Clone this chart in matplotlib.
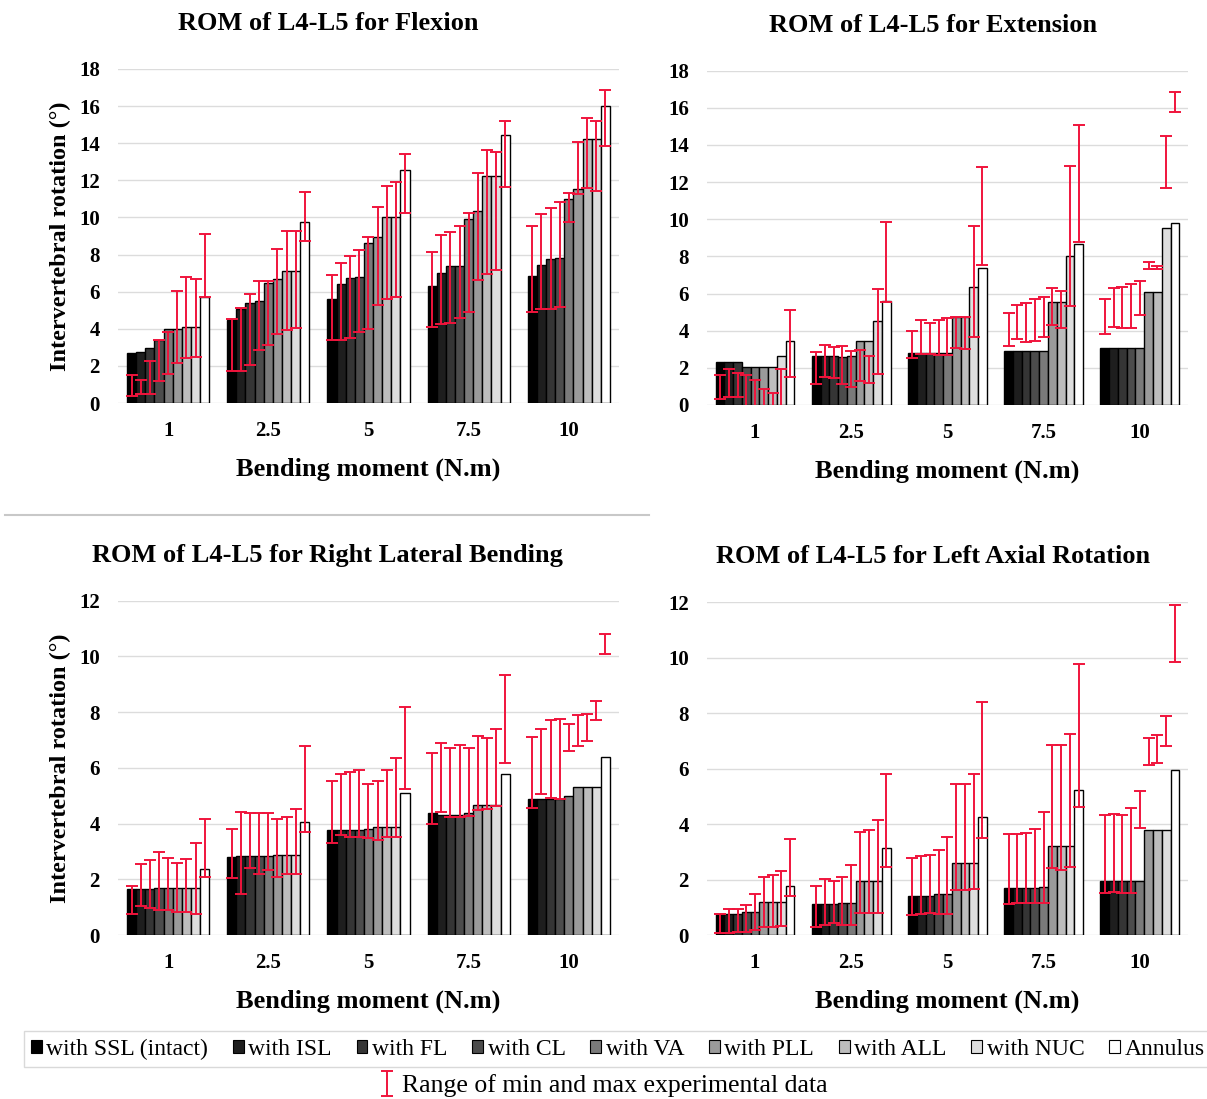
import numpy as np
import matplotlib.pyplot as plt
from matplotlib.patches import Patch
from matplotlib.lines import Line2D

plt.rcParams['font.family'] = ['Liberation Serif', 'DejaVu Serif']

moments = ['1', '2.5', '5', '7.5', '10']
series = ['with SSL (intact)', 'with ISL', 'with FL', 'with CL', 'with VA',
          'with PLL', 'with ALL', 'with NUC', 'Annulus']

# rows = bending moment, columns = series
flex_rom = [[2.72, 2.77, 2.98, 3.40, 3.99, 3.99, 4.07, 4.07, 5.72],
            [4.45, 5.07, 5.38, 5.47, 6.44, 6.70, 7.12, 7.12, 9.77],
            [5.63, 6.39, 6.73, 6.80, 8.60, 8.96, 10.04, 10.04, 12.55],
            [6.30, 6.99, 7.38, 7.38, 9.90, 10.36, 12.23, 12.23, 14.44],
            [6.84, 7.45, 7.74, 7.81, 10.97, 11.53, 14.22, 14.22, 16.02]]
flex_max = [[1.50, 1.22, 2.28, 3.39, 3.84, 6.02, 6.77, 6.70, 9.13],
            [4.53, 5.10, 5.88, 6.55, 6.60, 8.30, 9.28, 9.28, 11.38],
            [6.88, 7.56, 7.92, 8.24, 8.93, 10.58, 11.70, 11.92, 13.43],
            [8.14, 9.05, 9.23, 9.54, 10.22, 12.37, 13.63, 13.54, 15.19],
            [9.54, 10.20, 10.49, 10.85, 11.33, 14.08, 15.34, 15.19, 16.86]]
flex_min = [[0.40, 0.47, 0.47, 1.16, 1.58, 2.13, 2.42, 2.48, 5.72],
            [1.73, 1.75, 2.06, 2.85, 3.15, 3.70, 3.93, 4.02, 8.73],
            [3.42, 3.42, 3.51, 3.83, 4.01, 5.29, 5.62, 5.71, 10.26],
            [4.11, 4.26, 4.33, 4.56, 4.89, 6.63, 6.95, 7.17, 11.65],
            [4.89, 5.05, 5.05, 5.19, 9.74, 11.24, 11.57, 11.44, 13.86]]

ext_rom = [[2.33, 2.33, 2.33, 2.03, 2.03, 2.03, 2.03, 2.66, 3.43],
           [2.66, 2.66, 2.66, 2.58, 2.63, 3.46, 3.46, 4.52, 5.61],
           [2.78, 2.78, 2.78, 2.78, 2.78, 4.76, 4.76, 6.37, 7.36],
           [2.93, 2.93, 2.93, 2.93, 2.93, 5.56, 5.56, 8.02, 8.65],
           [3.05, 3.05, 3.05, 3.05, 3.05, 6.10, 6.10, 9.55, 9.82]]
ext_max = [[1.62, 1.92, 1.71, 1.60, 1.35, 0.84, 0.63, 1.95, 5.12],
           [2.87, 3.25, 3.11, 3.18, 2.91, 2.96, 2.64, 6.23, 9.83],
           [4.00, 4.58, 4.43, 4.58, 4.67, 4.76, 4.72, 9.64, 12.80],
           [4.94, 5.39, 5.51, 5.69, 5.80, 6.28, 6.16, 12.87, 15.08],
           [5.69, 6.28, 6.37, 6.52, 6.69, 7.68, 7.48, 14.50, 16.87]]
ext_min = [[0.31, 0.45, 0.45, -0.30, -0.30, -0.30, -0.30, -0.30, 1.53],
           [1.13, 1.53, 1.47, 1.13, 0.99, 1.29, 1.20, 1.67, 5.56],
           [2.51, 2.75, 2.75, 2.69, 2.69, 3.05, 3.00, 3.68, 7.54],
           [3.20, 3.54, 3.41, 3.46, 3.68, 4.31, 4.13, 5.33, 8.79],
           [3.82, 4.22, 4.16, 4.16, 4.85, 7.31, 7.31, 11.70, 15.76]]

lat_rom = [[1.64, 1.65, 1.66, 1.68, 1.68, 1.68, 1.68, 1.68, 2.38],
           [2.79, 2.84, 2.84, 2.84, 2.84, 2.88, 2.88, 2.88, 4.07],
           [3.76, 3.76, 3.76, 3.77, 3.82, 3.86, 3.89, 3.89, 5.10],
           [4.37, 4.31, 4.31, 4.31, 4.39, 4.67, 4.67, 4.67, 5.78],
           [4.87, 4.87, 4.90, 4.90, 4.98, 5.32, 5.32, 5.32, 6.40]]
lat_max = [[1.77, 2.55, 2.69, 2.97, 2.78, 2.60, 2.73, 3.29, 4.16],
           [3.79, 4.43, 4.37, 4.39, 4.37, 4.15, 4.25, 4.52, 6.78],
           [5.54, 5.77, 5.86, 5.92, 5.42, 5.54, 5.92, 6.34, 8.17],
           [6.52, 6.88, 6.70, 6.82, 6.70, 7.15, 7.06, 7.39, 9.33],
           [7.12, 7.39, 7.72, 7.75, 7.57, 7.90, 7.93, 8.40, 10.79]]
lat_min = [[0.75, 1.04, 0.96, 0.90, 0.90, 0.81, 0.81, 0.75, 2.09],
           [2.03, 1.46, 2.39, 2.19, 2.33, 2.07, 2.19, 2.19, 3.71],
           [3.31, 3.60, 3.53, 3.53, 3.47, 3.41, 3.53, 3.53, 5.23],
           [3.98, 4.43, 4.25, 4.22, 4.27, 4.49, 4.52, 4.64, 6.19],
           [4.55, 5.06, 4.93, 4.90, 6.62, 6.78, 6.97, 7.72, 10.07]]

axr_rom = [[0.76, 0.76, 0.76, 0.82, 0.82, 1.18, 1.18, 1.18, 1.78],
           [1.11, 1.11, 1.11, 1.14, 1.14, 1.93, 1.93, 1.93, 3.13],
           [1.42, 1.42, 1.42, 1.47, 1.47, 2.61, 2.61, 2.61, 4.27],
           [1.69, 1.69, 1.69, 1.69, 1.74, 3.21, 3.21, 3.21, 5.21],
           [1.93, 1.93, 1.93, 1.93, 1.93, 3.77, 3.77, 3.77, 5.96]]
axr_max = [[0.76, 0.94, 0.94, 1.08, 1.47, 2.08, 2.16, 2.29, 3.45],
           [1.78, 2.01, 1.96, 2.10, 2.52, 3.73, 3.77, 4.15, 5.80],
           [2.77, 2.83, 2.89, 3.07, 3.53, 5.44, 5.44, 5.81, 8.40],
           [3.63, 3.63, 3.67, 3.83, 4.43, 6.83, 6.86, 7.25, 9.78],
           [4.33, 4.37, 4.33, 4.57, 5.20, 7.10, 7.20, 7.88, 11.91]]
axr_min = [[0.06, 0.06, 0.10, 0.12, 0.18, 0.28, 0.30, 0.32, 1.41],
           [0.30, 0.36, 0.42, 0.36, 0.36, 0.81, 0.81, 0.81, 2.44],
           [0.72, 0.76, 0.78, 0.76, 0.76, 1.62, 1.62, 1.65, 3.49],
           [1.11, 1.14, 1.17, 1.17, 1.14, 2.41, 2.35, 2.44, 4.61],
           [1.50, 1.56, 1.50, 1.50, 3.87, 6.14, 6.20, 6.80, 9.84]]

grays = ['#000000', '#1e1e1e', '#353535', '#4c4c4c', '#7a7a7a',
         '#9a9a9a', '#bdbdbd', '#dedede', '#ffffff']
red = '#f0143c'

fig = plt.figure(figsize=(12.07, 10.99), dpi=100)

# title, data, ymax, axes rect, y label?, title x (axes coords)
panels = [
    ('ROM of L4-L5 for Flexion', flex_rom, flex_min, flex_max, 18,
     [0.0978, 0.6333, 0.415, 0.304], True, 0.419),
    ('ROM of L4-L5 for Extension', ext_rom, ext_min, ext_max, 18,
     [0.5857, 0.6315, 0.3985, 0.3042], False, 0.47),
    ('ROM of L4-L5 for Right Lateral Bending', lat_rom, lat_min, lat_max, 12,
     [0.0978, 0.1492, 0.415, 0.3042], True, 0.419),
    ('ROM of L4-L5 for Left Axial Rotation', axr_rom, axr_min, axr_max, 12,
     [0.5857, 0.1492, 0.3985, 0.303], False, 0.47),
]

x = np.arange(len(moments))
w = 0.82 / len(series)
eb = None
for title, rom, lo, hi, top, pos, ylab, tx in panels:
    ax = fig.add_axes(pos)
    rom = np.array(rom); lo = np.array(lo); hi = np.array(hi)
    for j in range(len(series)):
        xs = x + (j - 4) * w
        ax.bar(xs, rom[:, j], w, color=grays[j], edgecolor='black', linewidth=1.0, zorder=2)
    for j in range(len(series)):
        xs = x + (j - 4) * w
        mid = (lo[:, j] + hi[:, j]) / 2
        half = (hi[:, j] - lo[:, j]) / 2
        eb = ax.errorbar(xs, mid, yerr=half, fmt='none', ecolor=red, elinewidth=1.4,
                         capsize=4.5, capthick=1.4, zorder=3)
    ax.set_xlim(-0.5, 4.5)
    ax.set_ylim(0, top)
    ax.set_yticks(np.arange(0, top + 1, 2))
    ax.set_xticks(x)
    ax.set_xticklabels(moments)
    ax.grid(axis='y', color='#dcdcdc', linewidth=1.0, zorder=0)
    ax.set_axisbelow(True)
    for s in ax.spines.values():
        s.set_visible(False)
    ax.tick_params(length=0, labelsize=15)
    ax.tick_params(axis='y', pad=13)
    ax.tick_params(axis='x', pad=13)
    for lab in ax.get_xticklabels() + ax.get_yticklabels():
        lab.set_fontweight('bold')
    ax.set_title(title, fontsize=19, fontweight='bold', pad=28, x=tx)
    ax.set_xlabel('Bending moment (N.m)', fontsize=19, fontweight='bold', labelpad=12)
    if ylab:
        ax.set_ylabel('Intervertebral rotation (°)', fontsize=17.5, fontweight='bold', labelpad=6)

# separator line under the top-left panel
fig.add_artist(Line2D([0.004, 0.538], [1 - 515 / 1099, 1 - 515 / 1099], color='#c8c8c8', linewidth=1.5))

handles = [Patch(facecolor=g, edgecolor='black', linewidth=0.8) for g in grays]
leg = fig.legend(handles, series, loc='center', bbox_to_anchor=(0.512, 1 - 1049 / 1099), ncol=9,
                 fontsize=17, handlelength=0.45, handleheight=0.45, handletextpad=0.2,
                 columnspacing=1.05, frameon=True, fancybox=False, edgecolor='#d0d0d0',
                 borderpad=0.3)
leg.get_frame().set_linewidth(1.0)
fig.legend([eb], ['Range of min and max experimental data'], loc='center',
           bbox_to_anchor=(0.5, 1 - 1086 / 1099), fontsize=18.5, frameon=False,
           handlelength=0.6, handletextpad=0.3)

fig.savefig('out.png', dpi=100)
